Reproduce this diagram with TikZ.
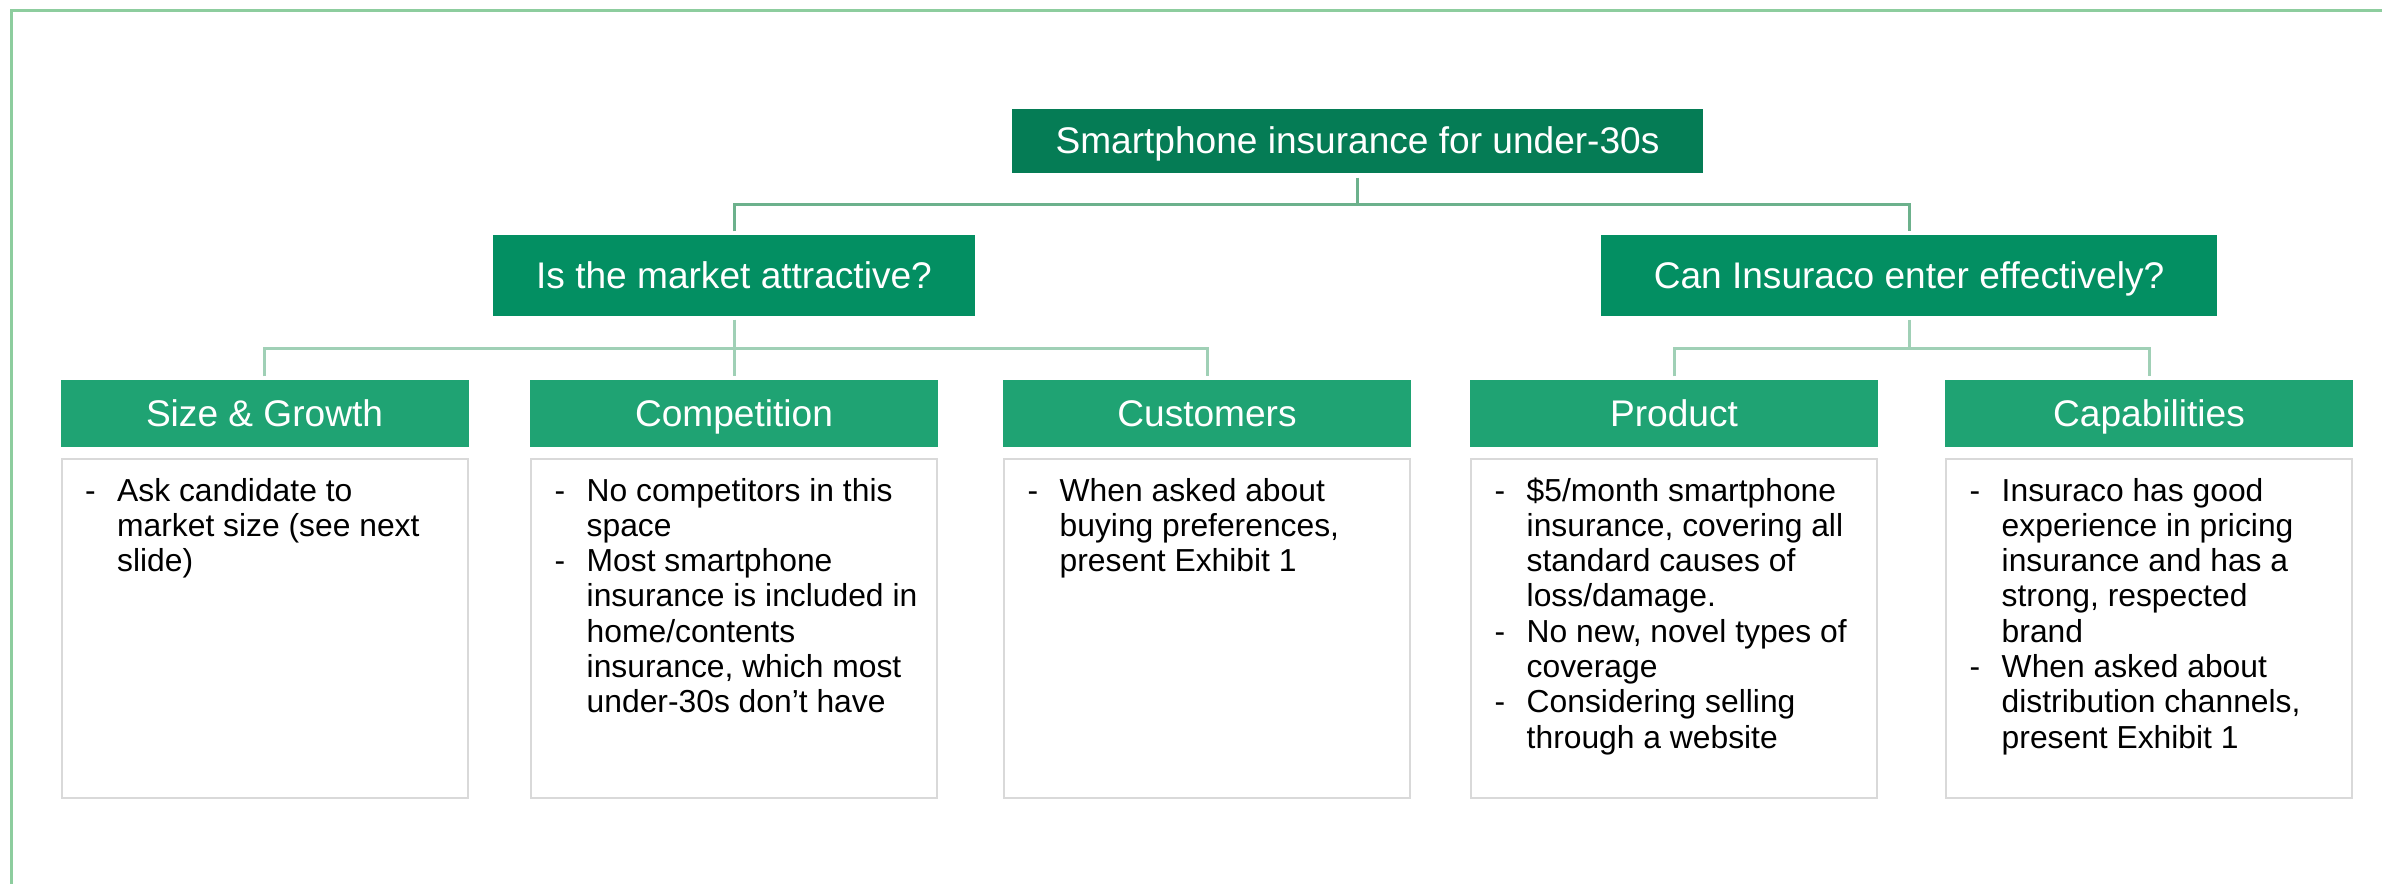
\documentclass[tikz,border=0pt]{standalone}
\usepackage{fontspec}
\setmainfont{Liberation Sans}
\usetikzlibrary{positioning}

\definecolor{rootgreen}{RGB}{5,124,85}
\definecolor{branchgreen}{RGB}{3,143,98}
\definecolor{leafgreen}{RGB}{31,163,115}
\definecolor{framegreen}{RGB}{141,205,158}
\definecolor{linkdark}{RGB}{108,177,140}
\definecolor{linklight}{RGB}{160,208,182}
\definecolor{boxgray}{RGB}{217,217,217}

\begin{document}
\begin{tikzpicture}[every node/.style={inner sep=0pt},
  head/.style={text=white, font=\fontsize{10.55}{12}\selectfont, text height=0.72em, text depth=0pt},
  root/.style={head, fill=rootgreen, minimum width=6.91cm, minimum height=0.64cm},
  branch/.style={head, fill=branchgreen, minimum width=#1, minimum height=0.81cm},
  leaf/.style={head, fill=leafgreen, minimum width=4.08cm, minimum height=0.67cm},
  notebox/.style={draw=boxgray, line width=0.02cm, minimum width=4.06cm, minimum height=3.39cm, below=0.1cm of #1},
  notes/.style={anchor=north west, font=\fontsize{9.05}{10.04}\selectfont},
  link/.style={draw=linklight, line width=0.03cm}]
\useasboundingbox (0,0) rectangle (23.82,8.84);
\draw[framegreen, line width=0.03cm] (0.115,0) -- (0.115,8.735) -- (23.82,8.735);

\node[root] (root) at (13.575,7.43) {Smartphone insurance for under-30s};
\node[branch=4.82cm] (market) at (7.34,6.085) {Is the market attractive?};
\node[branch=6.16cm] (entry) at (19.09,6.085) {Can Insuraco enter effectively?};

\node[leaf] (size) at (2.645,4.705) {Size \& Growth};
\node[leaf] (comp) at (7.34,4.705) {Competition};
\node[leaf] (cust) at (12.07,4.705) {Customers};
\node[leaf] (prod) at (16.74,4.705) {Product};
\node[leaf] (capab) at (21.49,4.705) {Capabilities};

\node[notebox=size] (sizeB) {};
\node[notebox=comp] (compB) {};
\node[notebox=cust] (custB) {};
\node[notebox=prod] (prodB) {};
\node[notebox=capab] (capabB) {};

% bullet texts
\node[notes] (sizeT) at ([xshift=0.24cm,yshift=-0.18cm]sizeB.north west) {\begin{tabular}{@{}p{0.32cm}@{}l@{}}
- & Ask candidate to\\
  & market size (see next\\
  & slide)
\end{tabular}};
\node[notes] (compT) at ([xshift=0.24cm,yshift=-0.18cm]compB.north west) {\begin{tabular}{@{}p{0.32cm}@{}l@{}}
- & No competitors in this\\
  & space\\
- & Most smartphone\\
  & insurance is included in\\
  & home/contents\\
  & insurance, which most\\
  & under-30s don’t have
\end{tabular}};
\node[notes] (custT) at ([xshift=0.24cm,yshift=-0.18cm]custB.north west) {\begin{tabular}{@{}p{0.32cm}@{}l@{}}
- & When asked about\\
  & buying preferences,\\
  & present Exhibit 1
\end{tabular}};
\node[notes] (prodT) at ([xshift=0.24cm,yshift=-0.18cm]prodB.north west) {\begin{tabular}{@{}p{0.32cm}@{}l@{}}
- & \$5/month smartphone\\
  & insurance, covering all\\
  & standard causes of\\
  & loss/damage.\\
- & No new, novel types of\\
  & coverage\\
- & Considering selling\\
  & through a website
\end{tabular}};
\node[notes] (capabT) at ([xshift=0.24cm,yshift=-0.18cm]capabB.north west) {\begin{tabular}{@{}p{0.32cm}@{}l@{}}
- & Insuraco has good\\
  & experience in pricing\\
  & insurance and has a\\
  & strong, respected\\
  & brand\\
- & When asked about\\
  & distribution channels,\\
  & present Exhibit 1
\end{tabular}};

% connectors
\draw[link, draw=linkdark] ([yshift=-0.04cm]root.south) -- ++(0,-0.28);
\draw[link, draw=linkdark] ([yshift=0.03cm]market.north) -- ++(0,0.27) -| ([yshift=0.03cm]entry.north);
\draw[link, shorten <=0.03cm, shorten >=0.03cm] (market.south) -- (comp.north);
\draw[link] ([yshift=0.03cm]size.north) -- ++(0,0.28) -| ([yshift=0.03cm]cust.north);
\draw[link] ([yshift=-0.03cm]entry.south) -- ++(0,-0.30);
\draw[link] ([yshift=0.03cm]prod.north) -- ++(0,0.28) -| ([yshift=0.03cm]capab.north);
\end{tikzpicture}
\end{document}
